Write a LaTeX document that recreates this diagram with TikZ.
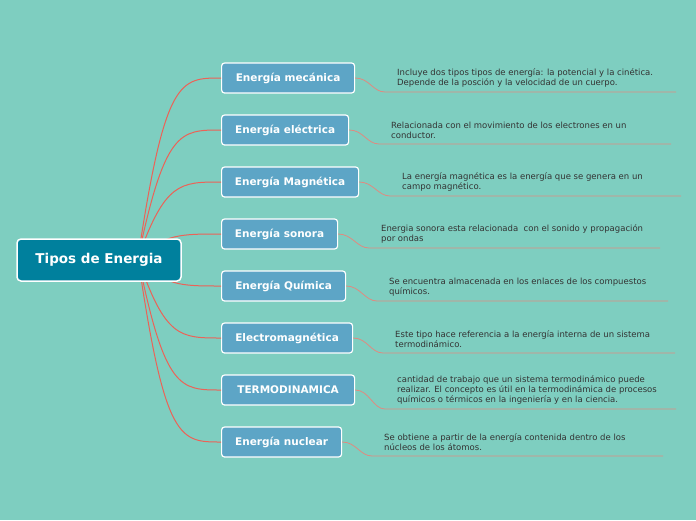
\documentclass[tikz,border=0pt]{standalone}
\usepackage{fontspec}
\setmainfont{DejaVu Sans}
\usepackage[HTML]{xcolor}
\usetikzlibrary{positioning}
\definecolor{bgteal}{HTML}{7ECEC0}
\definecolor{rootblue}{HTML}{00809D}
\definecolor{topicblue}{HTML}{5DA5C6}
\definecolor{branchred}{HTML}{EC6257}
\definecolor{linered}{HTML}{E08A80}
\definecolor{txtgray}{HTML}{333333}
\tikzset{
  rootbox/.style={fill=rootblue, draw=white, line width=1.5pt, rounded corners=4pt, text=white, font=\bfseries\fontsize{13.5}{15}\selectfont, minimum width=164pt, minimum height=42pt},
  topicbox/.style={fill=topicblue, draw=white, line width=1.2pt, rounded corners=3pt, text=white, font=\bfseries\fontsize{10.5}{12}\selectfont, minimum height=30pt, anchor=west, inner sep=0pt},
  desc/.style={text=txtgray, font=\fontsize{8.5}{10}\selectfont, align=left, anchor=south west, inner sep=0pt},
  branch/.style={branchred, line width=1pt},
  uline/.style={linered, line width=0.8pt}
}
\begin{document}
\begin{tikzpicture}[x=1pt, y=-1pt]
\useasboundingbox[fill=bgteal] (0,0) rectangle (696,520);

% --- Main topics ---
\coordinate (hub) at (138,258);
\foreach \name/\y/\w/\lbl in {
  mec/78/133/{Energía mecánica},
  ele/130/127/{Energía eléctrica},
  mag/182/137/{Energía Magnética},
  son/234/116/{Energía sonora},
  qui/286/124/{Energía Química},
  elm/338/131/{Electromagnética},
  ter/390/133/{TERMODINAMICA},
  nuc/442/120/{Energía nuclear}}{
  \node[topicbox, minimum width=\w pt] (\name) at (221,\y) {\lbl};
  \draw[branch] (hub) .. controls (165,\y) and (180,\y) .. (\name.west);
}

% --- Central topic ---
\node[rootbox] (root) at (99,260) {Tipos de Energia};

% --- Descriptions ---
\foreach \name/\x/\uy/\ex/\txt in {
  mec/397/92/676/{Incluye dos tipos tipos de energía: la potencial y la cinética.\\Depende de la posción y la velocidad de un cuerpo.},
  ele/391/144/671/{Relacionada con el movimiento de los electrones en un\\conductor.},
  mag/402/196/681/{La energía magnética es la energía que se genera en un\\campo magnético.},
  son/381/248/660/{Energia sonora esta relacionada \ con el sonido y propagación\\por ondas},
  qui/389/301/668/{Se encuentra almacenada en los enlaces de los compuestos\\químicos.},
  elm/395/353/675/{Este tipo hace referencia a la energía interna de un sistema\\termodinámico.},
  ter/397/409/676/{cantidad de trabajo que un sistema termodinámico puede\\realizar. El concepto es útil en la termodinámica de procesos\\químicos o térmicos en la ingeniería y en la ciencia.},
  nuc/384/456/663/{Se obtiene a partir de la energía contenida dentro de los\\núcleos de los átomos.}}{
  \coordinate (u\name) at (\x-12,\uy);
  \coordinate (e\name) at (\ex,\uy);
  \draw[uline] (\name.east) .. controls +(14,0) and +(-12,0) .. (u\name) -- (e\name);
  \node[desc] (d\name) at (\x,\uy-5) {\txt};
}
\end{tikzpicture}
\end{document}
